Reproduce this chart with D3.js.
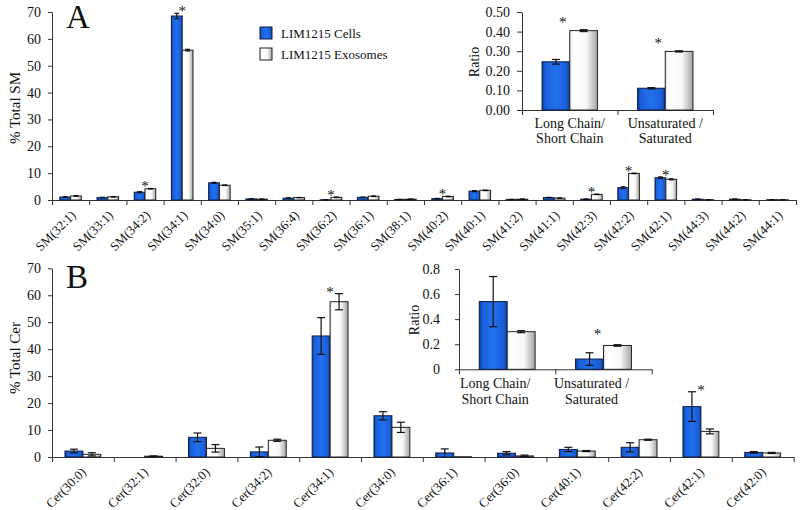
<!DOCTYPE html>
<html><head><meta charset="utf-8">
<script src="https://cdn.jsdelivr.net/npm/d3@7"></script>
<style>
body{margin:0;background:#fff}
svg{display:block}
text{font-family:"Liberation Serif","Times New Roman",serif;fill:#111}
</style>
</head><body>
<svg id="c" width="800" height="510"></svg>
<script>
// ---------------- DATA ----------------
const seriesNames = ["LIM1215 Cells", "LIM1215 Exosomes"];

const smCategories = ["SM(32:1)","SM(33:1)","SM(34:2)","SM(34:1)","SM(34:0)","SM(35:1)","SM(36:4)","SM(36:2)","SM(36:1)","SM(38:1)",
  "SM(40:2)","SM(40:1)","SM(41:2)","SM(41:1)","SM(42:3)","SM(42:2)","SM(42:1)","SM(44:3)","SM(44:2)","SM(44:1)"];
const smCells    = [1.1,0.9,2.9,68.5,6.4,0.4,0.7,0.1,1.0,0.2,0.5,3.3,0.2,0.9,0.3,4.6,8.3,0.3,0.3,0.1];
const smCellsErr = [0.1,0.1,0.2,1.0,0.2,0.05,0.1,0.05,0.1,0.05,0.1,0.2,0.05,0.1,0.05,0.3,0.3,0.05,0.05,0.02];
const smExo      = [1.5,1.2,4.2,55.8,5.5,0.3,0.9,1.0,1.4,0.3,1.3,3.6,0.3,0.7,2.1,9.9,7.7,0.1,0.1,0.1];
const smExoErr   = [0.1,0.1,0.1,0.3,0.1,0.05,0.05,0.1,0.1,0.05,0.1,0.1,0.05,0.05,0.1,0.1,0.2,0.02,0.02,0.02];
const smSignificant = [0,0,1,1,0,0,0,1,0,0,1,0,0,0,1,1,1,0,0,0];
const smTicks = [0,10,20,30,40,50,60,70];

const cerCategories = ["Cer(30:0)","Cer(32:1)","Cer(32:0)","Cer(34:2)","Cer(34:1)","Cer(34:0)","Cer(36:1)","Cer(36:0)",
  "Cer(40:1)","Cer(42:2)","Cer(42:1)","Cer(42:0)"];
const cerCells    = [2.2,0,7.3,1.9,44.9,15.3,1.5,1.4,2.8,3.6,18.7,1.7];
const cerCellsErr = [0.7,0,1.6,1.8,6.8,1.5,1.5,0.6,0.8,1.7,5.5,0.3];
const cerExo      = [1.0,0.3,3.2,6.2,57.6,11.0,0.1,0.4,2.2,6.4,9.5,1.5];
const cerExoErr   = [0.6,0.1,1.4,0.4,3.0,1.9,0,0.3,0.2,0.2,0.9,0.2];
const cerSignificant = [0,0,0,0,1,0,0,0,0,0,1,0];
const cerTicks = [0,10,20,30,40,50,60,70];

const ratioCategories = [["Long Chain/","Short Chain"],["Unsaturated /","Saturated"]];
const smRatioCells    = [0.246,0.111];
const smRatioCellsErr = [0.012,0.003];
const smRatioExo      = [0.405,0.299];
const smRatioExoErr   = [0.005,0.003];
const smRatioSignificant = [1,1];
const smRatioTicks = [0,0.1,0.2,0.3,0.4,0.5];

const cerRatioCells    = [0.54,0.082];
const cerRatioCellsErr = [0.20,0.05];
const cerRatioExo      = [0.30,0.19];
const cerRatioExoErr   = [0.008,0.006];
const cerRatioSignificant = [0,1];
const cerRatioTicks = [0,0.2,0.4,0.6,0.8];

// ---------------- DRAW ----------------
const svg = d3.select("#c");
const defs = svg.append("defs");
function hgrad(id, stops){
  const lg = defs.append("linearGradient").attr("id", id).attr("x1","0%").attr("x2","100%").attr("y1","0%").attr("y2","0%");
  stops.forEach(s => lg.append("stop").attr("offset", s[0]).attr("stop-color", s[1]));
}
hgrad("gBlue", [["0%","#0a3a9c"],["12%","#1a5fdc"],["50%","#2270ee"],["88%","#1a5cd6"],["100%","#0b3890"]]);
hgrad("gWhite", [["0%","#e4e4e4"],["12%","#ffffff"],["60%","#f8f8f8"],["100%","#a4a4a4"]]);
const fills = ["url(#gBlue)", "url(#gWhite)"];
const strokes = ["#0d1d45", "#222"];

function drawPanel(cfg){
  const g = svg.append("g");
  const n = cfg.categories.length;
  const x = d3.scaleBand().domain(d3.range(n)).range([cfg.left, cfg.right]);
  const xb = d3.scaleLinear().domain([0, n]).range([cfg.left, cfg.right]);
  const y = d3.scaleLinear().domain([0, cfg.yMax]).range([cfg.bottom, cfg.top]);
  const bw = x.bandwidth() * 0.29;
  const sub = d3.scaleBand().domain([0, 1]).range([0, 2 * bw]);
  const off = (x.bandwidth() - 2 * bw) / 2;

  // y axis
  const ya = g.append("g").attr("transform", `translate(${cfg.left},0)`)
    .call(d3.axisLeft(y).tickValues(cfg.ticks).tickFormat(cfg.fmt).tickSize(cfg.tickLen).tickPadding(cfg.tickPad).tickSizeOuter(0));
  ya.select(".domain").attr("stroke", "#333");
  ya.selectAll(".tick line").attr("stroke", "#333");
  ya.selectAll(".tick text").style("font-size", cfg.tickFont + "px").attr("fill", "#111")
    .style("font-family", '"Liberation Serif","Times New Roman",serif');

  // x axis (ticks at band boundaries)
  const xa = g.append("g").attr("transform", `translate(0,${cfg.bottom})`)
    .call(d3.axisBottom(xb).tickValues(d3.range(n + 1)).tickFormat("").tickSize(cfg.xTickLen).tickSizeOuter(0));
  xa.select(".domain").attr("stroke", "#333");
  xa.selectAll(".tick line").attr("stroke", "#333");

  // bars
  cfg.series.forEach((vals, s) => {
    g.append("g").selectAll("rect").data(vals.map((v, i) => ({v, i}))).join("rect")
      .filter(d => d.v > 0)
      .attr("x", d => x(d.i) + off + sub(s))
      .attr("y", d => y(d.v))
      .attr("width", sub.bandwidth())
      .attr("height", d => y(0) - y(d.v))
      .attr("fill", fills[s])
      .attr("stroke", strokes[s])
      .attr("stroke-width", 1);
  });

  // error bars
  const cap = Math.min(8, bw * 0.45) / 2;
  cfg.series.forEach((vals, s) => {
    const errs = cfg.errors[s];
    const eg = g.append("g").attr("stroke", "#111").attr("stroke-width", 1.2);
    vals.forEach((v, i) => {
      const e = errs[i];
      if (!(e > 0) || !(v > 0)) return;
      const cx = x(i) + off + sub(s) + sub.bandwidth() / 2;
      const y1 = y(Math.max(0, v - e)), y2 = y(v + e);
      eg.append("line").attr("x1", cx).attr("x2", cx).attr("y1", y1).attr("y2", y2);
      eg.append("line").attr("x1", cx - cap).attr("x2", cx + cap).attr("y1", y2).attr("y2", y2);
      if (v - e > 0) eg.append("line").attr("x1", cx - cap).attr("x2", cx + cap).attr("y1", y1).attr("y2", y1);
    });
  });

  // significance stars
  cfg.sig.forEach((sgn, i) => {
    if (!sgn) return;
    const top = d3.min(cfg.series.map((vals, s) => y(vals[i] + (cfg.errors[s][i] || 0))));
    g.append("text").attr("x", x(i) + x.bandwidth() / 2 + (cfg.starDx || 0)).attr("y", top + cfg.starDy)
      .attr("text-anchor", "middle").style("font-size", "15px").attr("fill", "#222").text("*");
  });

  // category labels
  if (cfg.rotated) {
    cfg.categories.forEach((c, i) => {
      const px = x(i) + x.bandwidth() / 2 + cfg.labDx, py = cfg.bottom + cfg.labDy;
      g.append("text").attr("transform", `translate(${px},${py}) rotate(-45)`)
        .attr("text-anchor", "end").style("font-size", cfg.labFont + "px").text(c);
    });
  } else {
    cfg.categories.forEach((lines, i) => {
      lines.forEach((t, k) => {
        g.append("text").attr("x", x(i) + x.bandwidth() / 2 + (cfg.labDx || 0)).attr("y", cfg.bottom + cfg.labDy + k * cfg.labLine)
          .attr("text-anchor", "middle").style("font-size", cfg.labFont + "px").text(t);
      });
    });
  }

  // y title
  g.append("text").attr("transform", `translate(${cfg.titleX},${cfg.titleY}) rotate(-90)`)
    .attr("text-anchor", "middle").style("font-size", cfg.titleFont + "px").text(cfg.title);
}

// Panel A main
drawPanel({categories: smCategories, series: [smCells, smExo], errors: [smCellsErr, smExoErr], sig: smSignificant,
  left: 52, right: 796, bottom: 200, top: 12, yMax: 70, ticks: smTicks, fmt: d3.format("d"),
  tickLen: 4, tickPad: 7, tickFont: 14, xTickLen: 5, starDy: 3,
  rotated: true, labDx: 6, labDy: 16, labFont: 13,
  title: "% Total SM", titleX: 20, titleY: 108, titleFont: 15});

// Panel B main
drawPanel({categories: cerCategories, series: [cerCells, cerExo], errors: [cerCellsErr, cerExoErr], sig: cerSignificant,
  left: 52, right: 793.6, bottom: 457, top: 268.3, yMax: 70, ticks: cerTicks, fmt: d3.format("d"),
  tickLen: 4, tickPad: 7, tickFont: 14, xTickLen: 5, starDy: 3,
  rotated: true, labDx: 4, labDy: 16, labFont: 13,
  title: "% Total Cer", titleX: 20, titleY: 358, titleFont: 15});

// Inset A
drawPanel({categories: ratioCategories, series: [smRatioCells, smRatioExo], errors: [smRatioCellsErr, smRatioExoErr], sig: smRatioSignificant,
  left: 522, right: 713, bottom: 110, top: 12, yMax: 0.5, ticks: smRatioTicks, fmt: d3.format(".2f"),
  tickLen: 5, tickPad: 7, tickFont: 14, xTickLen: 5, starDy: -3, starDx: -7,
  rotated: false, labDy: 18, labLine: 15, labFont: 14,
  title: "Ratio", titleX: 479, titleY: 62, titleFont: 14});

// Inset B
drawPanel({categories: ratioCategories, series: [cerRatioCells, cerRatioExo], errors: [cerRatioCellsErr, cerRatioExoErr], sig: cerRatioSignificant,
  left: 459, right: 651.7, bottom: 369.3, top: 269, yMax: 0.8, ticks: cerRatioTicks, fmt: d => d === 0 ? "0" : d3.format(".1f")(d),
  tickLen: 4, tickPad: 15, tickFont: 14, xTickLen: 5, starDy: -6, starDx: -6,
  rotated: false, labDx: -12, labDy: 19, labLine: 16, labFont: 14,
  title: "Ratio", titleX: 419, titleY: 320, titleFont: 14});

// Panel letters
svg.append("text").attr("x", 66).attr("y", 28).style("font-size", "33px").text("A");
svg.append("text").attr("x", 66).attr("y", 288).style("font-size", "33px").text("B");

// Legend
const leg = svg.append("g");
seriesNames.forEach((nm, s) => {
  leg.append("rect").attr("x", 260).attr("y", 27 + s * 21).attr("width", 12).attr("height", 12)
    .attr("fill", fills[s]).attr("stroke", strokes[s]);
  leg.append("text").attr("x", 281).attr("y", 38 + s * 21).style("font-size", "13px").text(nm);
});
</script>
</body></html>
